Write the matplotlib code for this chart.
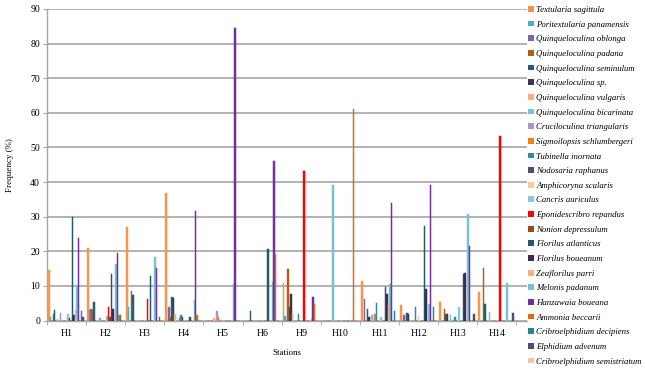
import numpy as np
import matplotlib.pyplot as plt
from matplotlib.patches import Patch

stations = ["H1", "H2", "H3", "H4", "H5", "H6", "H9", "H10", "H11", "H12", "H13", "H14"]

species = [
    "Textularia sagittula", "Poritextularia panamensis", "Quinqueloculina oblonga",
    "Quinqueloculina padana", "Quinqueloculina seminulum", "Quinqueloculina sp.",
    "Quinqueloculina vulgaris", "Quinqueloculina bicarinata", "Cruciloculina triangularis",
    "Sigmoilopsis schlumbergeri", "Tubinella inornata", "Nodosaria raphanus",
    "Amphicoryna scalaris", "Cancris auriculus", "Eponidescribro repandus",
    "Nonion depressulum", "Florilus atlanticus", "Florilus boueanum",
    "Zeaflorilus parri", "Melonis padanum", "Hanzawaia boueana",
    "Ammonia beccarii", "Cribroelphidium decipiens", "Elphidium advenum",
    "Cribroelphidium semistriatum",
]

colors = [
    "#F79646", "#4BACC6", "#8064A2", "#B55E1C", "#245F70", "#3E3352",
    "#F9B07A", "#79C1D5", "#A996C8", "#F57E20", "#2D8CA3", "#5B4677",
    "#FBC79B", "#86CBDD", "#FF0000", "#9B4B10", "#23596A", "#3A2E4E",
    "#F8B37D", "#79C3D6", "#7030A0", "#E06A12", "#2E8099", "#5A4778",
    "#FAC49A",
]

# frequency (%) of each species, one list per station, in the species order above
h1 = [14.6, 1.0, 0, 2.0, 3.0, 0, 0.5, 0, 2.2, 0, 0, 0, 0, 2.0, 0.7, 0, 30.0, 1.5, 3.0, 10.3, 23.8, 0, 2.8, 1.0, 0]
h2 = [21.0, 3.0, 3.2, 3.0, 5.4, 0, 0, 0, 0.8, 0, 0, 0, 0, 1.2, 4.0, 1.0, 13.4, 3.2, 0, 16.2, 19.4, 1.5, 1.7, 0, 0]
h3 = [26.9, 3.8, 0, 8.5, 7.4, 0, 0, 0, 0, 0, 0, 0, 0, 0, 6.3, 0, 12.9, 0, 0, 18.4, 15.1, 0, 1.0, 0, 0]
h4 = [36.9, 0, 4.0, 1.0, 6.7, 6.5, 1.9, 0, 0, 0.8, 1.5, 1.0, 0, 0, 0, 0, 1.0, 0, 0, 5.9, 31.6, 1.5, 0, 0, 0]
h5 = [0, 0, 0, 0, 0, 0, 0.8, 0, 2.7, 1.0, 0, 0, 0, 0, 0, 0, 0, 0, 0, 10.5, 84.6, 0, 0, 0, 0]
h6 = [0, 0, 0, 0, 2.7, 0, 0, 0, 0, 0, 0, 0, 0, 0, 0, 0, 20.6, 0, 0, 11.0, 46.0, 19.2, 0, 0, 0]
h9 = [10.9, 1.3, 0, 15.0, 3.8, 7.7, 2.1, 0, 0, 0, 1.8, 0, 0, 0, 43.1, 0, 0, 0, 0, 0.5, 6.7, 4.7, 0, 0, 0]
h10 = [0, 0, 0, 0, 0, 0, 0, 39.1, 0, 0, 0, 0, 0, 0, 0, 0, 0, 0, 0, 0, 0, 61.2, 0, 0, 0]
h11 = [11.4, 0, 6.1, 0, 3.2, 1.0, 0, 1.5, 0, 2.0, 5.0, 0, 0, 1.0, 0, 0, 9.8, 7.7, 4.5, 10.5, 34.0, 0, 2.7, 0, 0]
h12 = [4.5, 0, 1.6, 0, 2.1, 2.0, 0, 0, 0, 0, 3.8, 0, 1.3, 0, 0, 0, 27.3, 9.2, 0, 4.8, 39.1, 0, 3.8, 0, 0]
h13 = [5.3, 0, 0, 3.2, 2.0, 2.0, 0, 1.5, 0, 0, 1.0, 0, 0, 4.0, 0, 0, 13.3, 13.7, 0, 30.7, 21.5, 0, 0, 2.0, 0]
h14 = [8.3, 0, 0, 15.2, 4.8, 0, 0, 2.6, 0, 0, 0, 0, 0, 0, 53.2, 0, 0, 0, 0, 10.8, 0, 0, 0, 2.2, 0]

freq = np.array([h1, h2, h3, h4, h5, h6, h9, h10, h11, h12, h13, h14]).T

serif = "Liberation Serif"
grid_col = "#A6A6A6"

fig = plt.figure(figsize=(6.45, 3.72), dpi=100)
ax = fig.add_axes([47 / 645, 51.5 / 372, 480 / 645, 311.5 / 372])

n = len(species)
w = 1 / (n + 1.5)
x = np.arange(len(stations))
for i in range(n):
    ax.bar(x - 0.5 + 0.75 * w + (i + 0.5) * w, freq[i], width=w,
           color=colors[i], edgecolor=colors[i], linewidth=0.35, zorder=3)

ax.set_ylim(0, 90)
ax.set_xlim(-0.5, len(stations) - 0.5 + 0.27)
ax.set_yticks(np.arange(0, 91, 10))
ax.yaxis.grid(True, color=grid_col, linewidth=1.2)
ax.set_axisbelow(True)

for s in ["top", "right"]:
    ax.spines[s].set_visible(False)
for s in ["left", "bottom"]:
    ax.spines[s].set_color(grid_col)
    ax.spines[s].set_linewidth(1.0)

ax.set_xticks(x)
ax.set_xticklabels(stations)
ax.set_xticks(np.arange(-0.5, len(stations)), minor=True)
ax.tick_params(axis="x", which="major", length=0, pad=6)
ax.tick_params(axis="x", which="minor", length=3, color=grid_col)
ax.tick_params(axis="y", length=3, color=grid_col, pad=2)
for lab in ax.get_xticklabels() + ax.get_yticklabels():
    lab.set_fontfamily(serif)
    lab.set_fontsize(7)

ax.set_xlabel("Stations", fontfamily=serif, fontsize=6.5, labelpad=8)
ax.set_ylabel("Frequency (%)", fontfamily=serif, fontsize=6.5, labelpad=12)

handles = [Patch(facecolor=c, edgecolor="none") for c in colors]
fig.legend(handles, species, loc="upper left", bbox_to_anchor=(528 / 645, 1 - 6 / 372),
           frameon=False, prop={"family": serif, "style": "italic", "size": 6.3},
           handlelength=0.65, handleheight=0.65, handletextpad=0.3,
           labelspacing=0.76, borderaxespad=0, borderpad=0)

fig.savefig("out.png", dpi=100)
